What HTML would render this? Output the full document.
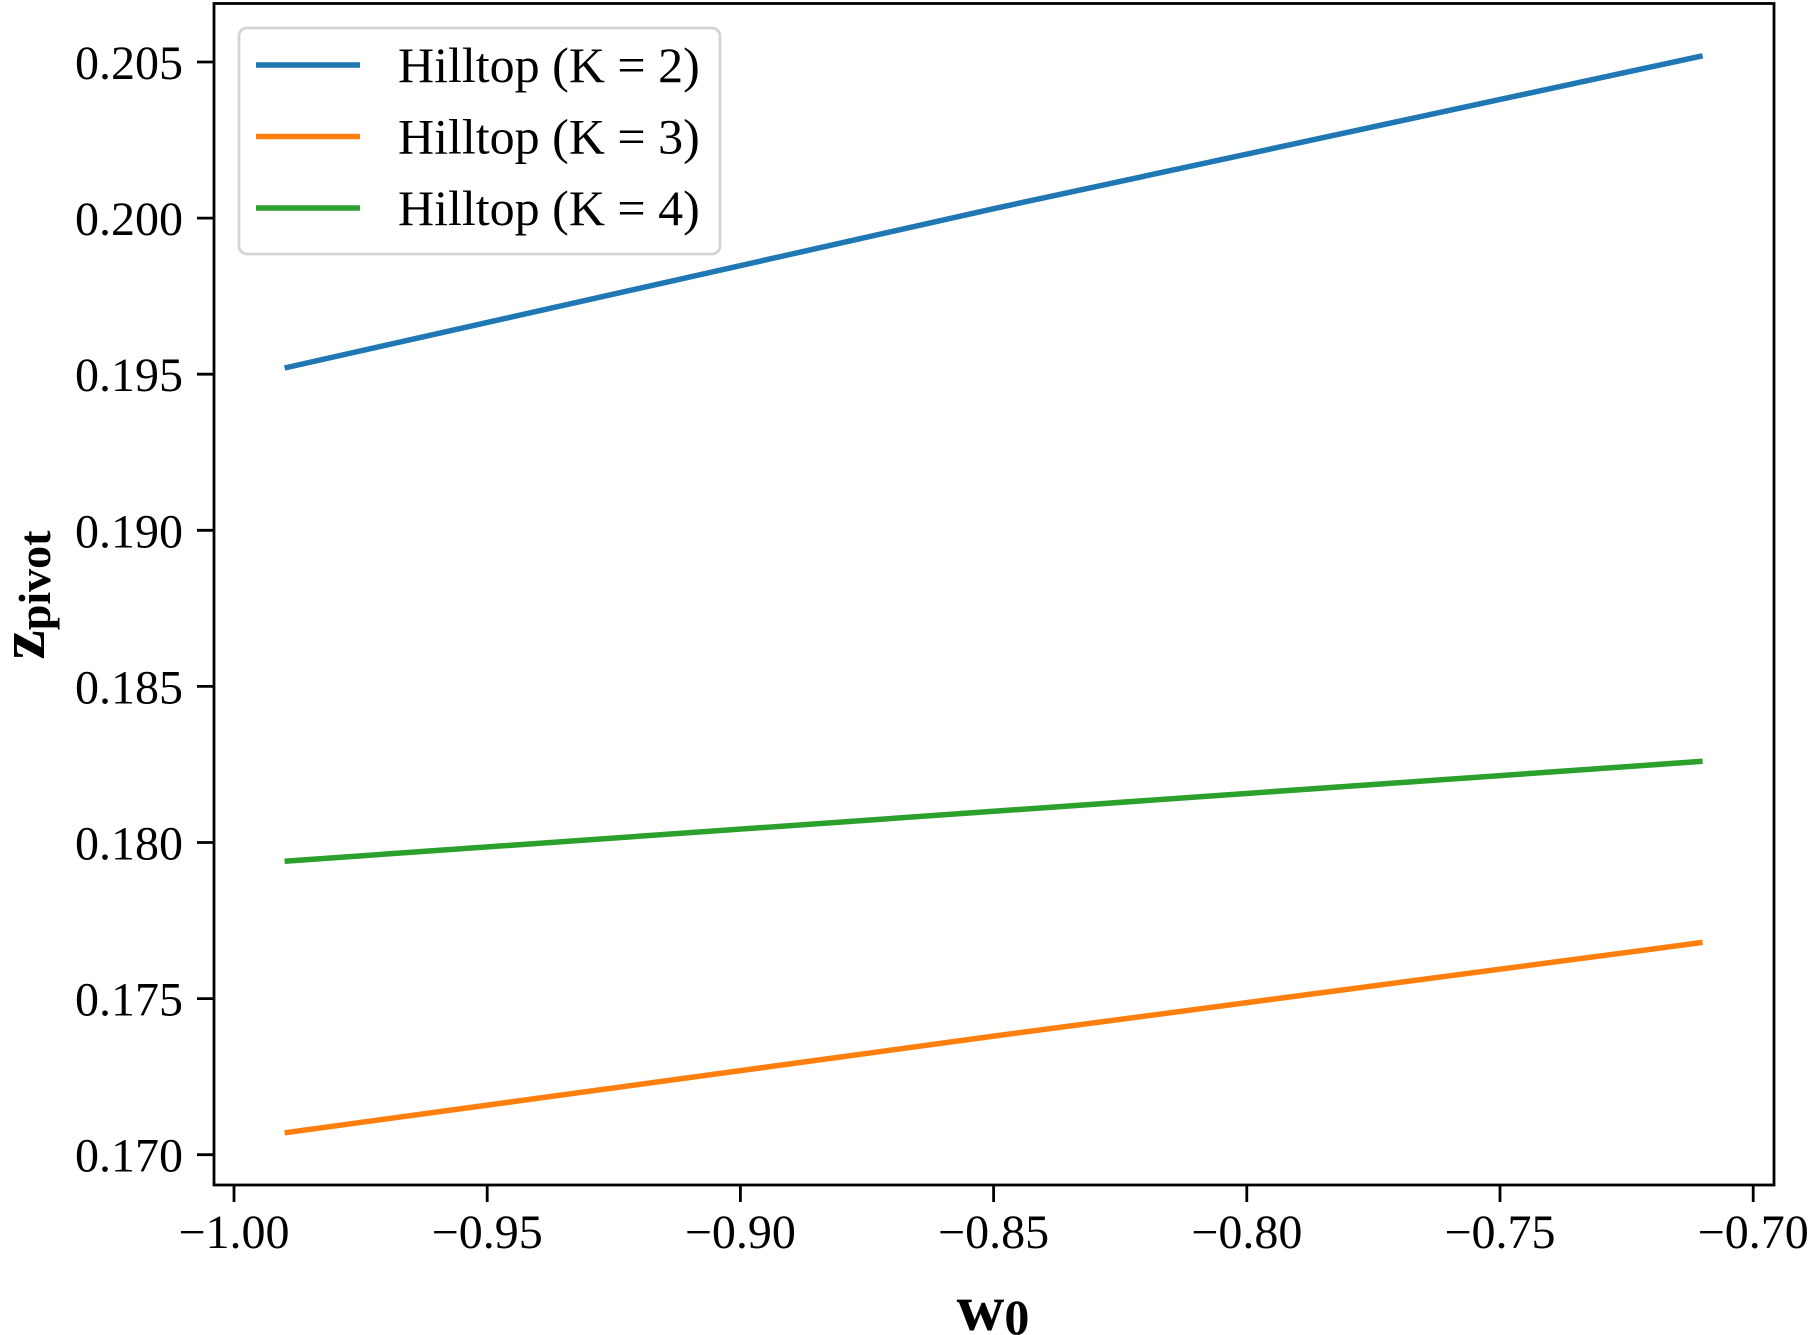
<!DOCTYPE html>
<html><head><meta charset="utf-8"><style>
body{margin:0;background:#fff}
svg{display:block;font-family:"Liberation Serif",serif}
</style></head><body>
<svg id="chart" width="1811" height="1335" viewBox="0 0 1811 1335" xmlns="http://www.w3.org/2000/svg">
<g id="plot"></g>
</svg>
<script>
const xValues = [-0.99, -0.85, -0.71];
const seriesK2 = [0.1952, 0.2003, 0.2052];
const seriesK3 = [0.1707, 0.1738, 0.1768];
const seriesK4 = [0.1794, 0.1810, 0.1826];
const seriesNames = ["Hilltop (K = 2)", "Hilltop (K = 3)", "Hilltop (K = 4)"];
const xTicks = [-1.00, -0.95, -0.90, -0.85, -0.80, -0.75, -0.70];
const xTickLabels = ["\u22121.00","\u22120.95","\u22120.90","\u22120.85","\u22120.80","\u22120.75","\u22120.70"];
const yTicks = [0.170, 0.175, 0.180, 0.185, 0.190, 0.195, 0.200, 0.205];
const yTickLabels = ["0.170","0.175","0.180","0.185","0.190","0.195","0.200","0.205"];

const NS = "http://www.w3.org/2000/svg";
const g = document.getElementById('plot');
const L=214, R=1774, T=3.5, B=1185;
function sx(v){ return 234 + (v + 1.0) / 0.05 * 253.2; }
function sy(v){ return 62 + (0.205 - v) / 0.005 * 156.1; }
function mk(tag, attrs, parent){ const e=document.createElementNS(NS,tag); for(const k in attrs) e.setAttribute(k,attrs[k]); (parent||g).appendChild(e); return e; }

const colors = ["#1f77b4","#ff7f0e","#2ca02c"];
const series = [seriesK2, seriesK3, seriesK4];
const keys = ["k2","k3","k4"];
series.forEach((s,i)=>{
  const pts = s.map((v,j)=>sx(xValues[j]).toFixed(1)+","+sy(v).toFixed(1)).join(" ");
  const pl = mk('polyline',{points:pts,fill:'none',stroke:colors[i],'stroke-width':5.5,'stroke-linecap':'butt'});
  
  
});

const frame = mk('rect',{x:L,y:T,width:R-L,height:B-T,fill:'none',stroke:'#000','stroke-width':2.8});



xTicks.forEach((v,i)=>{
  const x=sx(v);
  const t = mk('line',{x1:x,x2:x,y1:B,y2:B+17,stroke:'#000','stroke-width':2.8});
  
  
  const tx = mk('text',{x:x,y:B+63,'text-anchor':'middle','font-size':48});
  tx.textContent = xTickLabels[i];
  
  
});
yTicks.forEach((v,i)=>{
  const y=sy(v);
  const t = mk('line',{x1:L-17,x2:L,y1:y,y2:y,stroke:'#000','stroke-width':2.8});
  
  
  const tx = mk('text',{x:183,y:y+17,'text-anchor':'end','font-size':48});
  tx.textContent = yTickLabels[i];
  
  
});

const xl = mk('text',{x:993,y:1330,'text-anchor':'middle','font-size':66,'font-weight':'bold'});
xl.innerHTML = 'w<tspan font-size="50" dy="4">0</tspan>';


const yl = mk('text',{x:0,y:0,'text-anchor':'middle','font-size':66,'font-weight':'bold',transform:'translate(44,595) rotate(-90)'});
yl.innerHTML = 'z<tspan font-size="46" dy="6">pivot</tspan>';



const lg = mk('g',{});


mk('rect',{x:239,y:28,width:481,height:226,rx:8,fill:'#fff',stroke:'#d4d4d4','stroke-width':2.8},lg);
seriesNames.forEach((n,i)=>{
  const y = 65 + i*71.5;
  const ln = mk('line',{x1:256,x2:360,y1:y,y2:y,stroke:colors[i],'stroke-width':5.5},lg);
  
  
  const tx = mk('text',{x:398,y:y+17,'font-size':50},lg);
  tx.textContent = n;
  
  
});
</script>
</body></html>
